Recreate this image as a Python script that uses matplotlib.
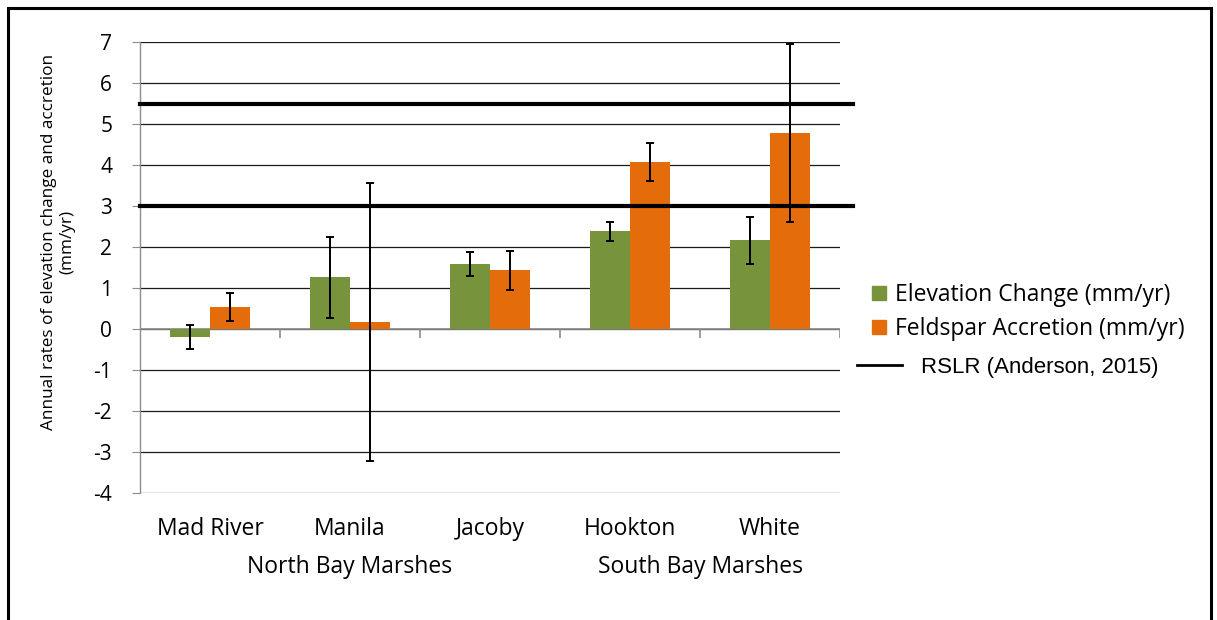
import numpy as np
import matplotlib.pyplot as plt
from matplotlib.lines import Line2D
from matplotlib.patches import Rectangle

plt.rcParams['font.family'] = ['Open Sans', 'DejaVu Sans']
plt.rcParams['axes.unicode_minus'] = False

# data
sites = ['Mad River', 'Manila', 'Jacoby', 'Hookton', 'White']
regions = ['North Bay Marshes', 'South Bay Marshes']
region_pos = [1, 3.5]
elev = [-0.20, 1.26, 1.58, 2.38, 2.16]
elev_err = [0.29, 0.98, 0.29, 0.24, 0.57]
feld = [0.53, 0.16, 1.43, 4.07, 4.77]
feld_err = [0.34, 3.39, 0.47, 0.46, 2.17]
rslr = [5.5, 3.0]

green = '#77933C'
orange = '#E46C0A'
W, H = 1217, 620

fig = plt.figure(figsize=(W / 100, H / 100), dpi=100)
ax = fig.add_axes([140 / W, 1 - 493 / H, 700 / W, 451 / H])

x = np.arange(len(sites))
bw = 0.286
err_kw = dict(ecolor='black', elinewidth=1.4, capsize=3.2, capthick=1.4, zorder=5)
ax.bar(x - bw / 2, elev, bw, color=green, yerr=elev_err, error_kw=err_kw, zorder=3)
ax.bar(x + bw / 2, feld, bw, color=orange, yerr=feld_err, error_kw=err_kw, zorder=3)

for v in rslr:
    ax.axhline(v, xmin=0, xmax=1.018, color='black', lw=3, clip_on=False, zorder=4)

ax.set_xlim(-0.5, len(sites) - 0.5)
ax.set_ylim(-4, 7)
ax.set_yticks(range(-4, 8))
ax.set_axisbelow(True)
ax.yaxis.grid(True, color='#1a1a1a', lw=0.9)
ax.axhline(0, color='#8c8c8c', lw=1.2, zorder=2)
ax.vlines(np.arange(0.5, len(sites)), -0.22, 0, color='#8c8c8c', lw=1.2, zorder=2)

for s in ['top', 'right', 'bottom']:
    ax.spines[s].set_visible(False)
ax.spines['left'].set_color('#8c8c8c')
ax.spines['left'].set_linewidth(1)

ax.tick_params(axis='y', direction='out', length=6, color='#8c8c8c', pad=14, labelsize=15)
ax.set_xticks(x, sites)
ax.tick_params(axis='x', length=0, pad=17, labelsize=16.5)

for name, pos in zip(regions, region_pos):
    ax.text(pos, -0.164, name, transform=ax.get_xaxis_transform(),
            ha='center', va='center', fontsize=16.5)

fig.text(58.5 / W, 1 - 242 / H, 'Annual rates of elevation change and accretion\n(mm/yr)',
         rotation=90, ha='center', va='center', multialignment='center', fontsize=12.3)

# legend: bars then RSLR line
h1 = [Line2D([], [], ls='none', marker='s', ms=9.5, mfc=green, mec=green,
             label='Elevation Change (mm/yr)'),
      Line2D([], [], ls='none', marker='s', ms=9.5, mfc=orange, mec=orange,
             label='Feldspar Accretion (mm/yr)')]
leg1 = ax.legend(handles=h1, loc='upper left', bbox_to_anchor=(869.5 / W, 1 - 283 / H),
                 bbox_transform=fig.transFigure, frameon=False, fontsize=16.5,
                 handlelength=0.87, handletextpad=0.24, labelspacing=0.45,
                 borderpad=0, borderaxespad=0)
ax.add_artist(leg1)
h2 = [Line2D([], [], color='black', lw=2, label='RSLR (Anderson, 2015)')]
leg2 = ax.legend(handles=h2, loc='upper left', bbox_to_anchor=(857 / W, 1 - 357 / H),
                 bbox_transform=fig.transFigure, frameon=False,
                 prop={'family': 'Liberation Sans', 'size': 16},
                 handlelength=2.03, handletextpad=0.86, borderpad=0, borderaxespad=0)

# outer frame
fig.add_artist(Rectangle((8 / W, -0.1), (1211 - 8) / W, 1.1 - 8 / H, fill=False,
                         lw=2.2, ec='black', transform=fig.transFigure))

fig.savefig('out.png', dpi=100)
